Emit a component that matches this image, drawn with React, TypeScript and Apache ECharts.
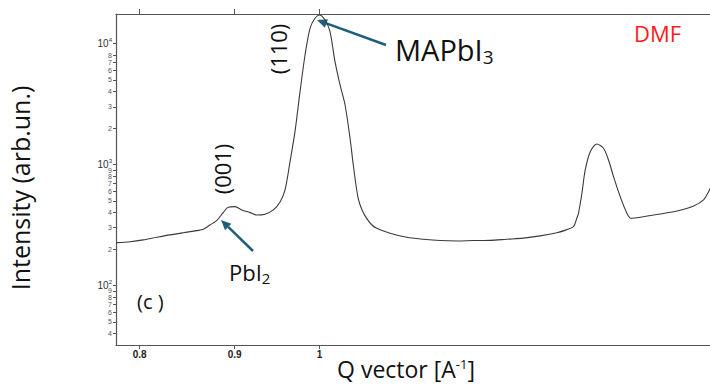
import React, { useEffect, useRef } from "react";
import * as echarts from "echarts";

// Q vector [A^-1]
const qValues = [
  0.7774, 0.7904, 0.8035, 0.817, 0.8306, 0.8444, 0.8586, 0.8658, 0.8728, 0.8801,
  0.8873, 0.8929, 0.9004, 0.908, 0.9174, 0.925, 0.9346, 0.9443, 0.9522, 0.9581,
  0.964, 0.97, 0.9761, 0.9822, 0.9883, 0.9944, 0.9998, 1.0069, 1.0131, 1.0194,
  1.0258, 1.0322, 1.0386, 1.0428, 1.049, 1.0542, 1.0607, 1.0673, 1.0736, 1.0914,
  1.1143, 1.1375, 1.1614, 1.1857, 1.2104, 1.2358, 1.2617, 1.288, 1.315, 1.3426,
  1.3582, 1.3705, 1.3763, 1.379, 1.3849, 1.3906, 1.3993, 1.4109, 1.4225, 1.4314,
  1.4403, 1.4523, 1.4644, 1.4717, 1.4888, 1.5263, 1.5583, 1.5908, 1.6106, 1.6206,
  1.6277,
];
// Intensity (arb.un.)
const intensities = [
  226, 230, 238, 250, 262, 273, 284, 291, 316, 343,
  400, 443, 448, 421, 400, 382, 388, 421, 490, 616,
  1049, 1867, 3996, 8035, 13355, 16155, 17200, 15638, 12518, 7072,
  4539, 3102, 1646, 991, 529, 421, 355, 316, 297, 270,
  250, 241, 235, 233, 235, 236, 241, 246, 257, 273,
  288, 306, 361, 395, 578, 901, 1276, 1477, 1361, 1089,
  793, 542, 395, 359, 366, 390, 413, 454, 509, 596,
  677,
];
const xTickValues = [0.8, 0.9, 1];
const yTickValues = [
  40, 50, 60, 70, 80, 90,
  100, 200, 300, 400, 500, 600, 700, 800, 900,
  1000, 2000, 3000, 4000, 5000, 6000, 7000, 8000, 9000,
  10000,
];
const xRange = [0.7768, 1.6235];
const yRange = [32.2, 17530];

const FONT = "'Open Sans', 'Noto Sans', sans-serif";
const SMALL = "'Liberation Sans', Arial, sans-serif";
const ARROW = "#1f5f7c";

function arrowHead(tip: number[], from: number[], len: number, half: number) {
  const dx = tip[0] - from[0];
  const dy = tip[1] - from[1];
  const l = Math.hypot(dx, dy);
  const ux = dx / l;
  const uy = dy / l;
  const bx = tip[0] - ux * len;
  const by = tip[1] - uy * len;
  const nx = -uy;
  const ny = ux;
  return {
    base: [bx, by],
    pts: [tip, [bx + nx * half, by + ny * half], [bx - nx * half, by - ny * half]],
  };
}

export default function App() {
  const ref = useRef<HTMLDivElement>(null);
  useEffect(() => {
    const chart = echarts.init(ref.current!, null, { renderer: "svg" });
    const a1 = arrowHead([317, 20], [386, 45], 10, 4.5);
    const a2 = arrowHead([221, 220], [253, 251], 10, 4.5);
    chart.setOption({
      animation: false,
      backgroundColor: "#ffffff",
      grid: {
        left: 116,
        right: 0,
        top: 14,
        bottom: 40,
        containLabel: false,
        outerBoundsMode: "none",
      },
      xAxis: [
        {
          type: "log",
          logBase: 10,
          min: xRange[0],
          max: xRange[1],
          position: "bottom",
          axisLine: { show: true, lineStyle: { color: "#555", width: 1.2 } },
          axisTick: {
            show: true,
            customValues: xTickValues,
            length: 4,
            lineStyle: { color: "#555" },
          },
          minorTick: { show: false },
          splitLine: { show: false },
          axisLabel: {
            show: true,
            customValues: xTickValues,
            hideOverlap: false,
            margin: 4,
            fontSize: 10,
            fontWeight: "bold",
            color: "#222",
            fontFamily: SMALL,
            formatter: (v: number) => String(Math.round(v * 10) / 10),
          },
          name: "{q|Q vector [A}{sup|-1}{q|]}",
          nameLocation: "middle",
          nameGap: 12,
          nameMoveOverlap: false,
          nameTextStyle: {
            fontSize: 23,
            color: "#111",
            fontFamily: FONT,
            lineHeight: 24,
            padding: [0, 14, 0, 0],
            rich: {
              q: { fontSize: 23, color: "#111", fontFamily: FONT, lineHeight: 24 },
              sup: { fontSize: 13, verticalAlign: "top", color: "#111", fontFamily: FONT, lineHeight: 14 },
            },
          },
        },
        {
          type: "log",
          logBase: 10,
          min: xRange[0],
          max: xRange[1],
          position: "top",
          axisLine: { show: true, lineStyle: { color: "#555", width: 1.2 } },
          axisTick: {
            show: true,
            customValues: xTickValues,
            length: 5,
            lineStyle: { color: "#555" },
          },
          splitLine: { show: false },
          axisLabel: { show: false },
        },
      ],
      yAxis: {
        type: "log",
        logBase: 10,
        min: yRange[0],
        max: yRange[1],
        axisLine: { show: true, lineStyle: { color: "#555", width: 1.2 } },
        axisTick: {
          show: true,
          customValues: yTickValues,
          length: 3,
          lineStyle: { color: "#555" },
        },
        splitLine: { show: false },
        axisLabel: {
          show: true,
          customValues: yTickValues,
          hideOverlap: false,
          showMinLabel: true,
          showMaxLabel: true,
          margin: 4,
          formatter: (v: number) => {
            const e = Math.round(Math.log10(v));
            if (Math.abs(v - Math.pow(10, e)) < 1e-6 * v) return `{b|10}{s|${e}}`;
            const d = Math.round(v / Math.pow(10, Math.floor(Math.log10(v) + 1e-9)));
            return `{m|${d}}`;
          },
          rich: {
            b: { fontSize: 10, color: "#333", fontFamily: SMALL, lineHeight: 12 },
            s: { fontSize: 6, color: "#333", verticalAlign: "top", fontFamily: SMALL },
            m: { fontSize: 7, color: "#555", fontFamily: SMALL },
          },
        },
        name: "Intensity (arb.un.)",
        nameLocation: "middle",
        nameGap: 84,
        nameMoveOverlap: false,
        nameRotate: 90,
        nameTextStyle: {
          fontSize: 25,
          color: "#111",
          fontFamily: FONT,
          padding: [0, 17, 0, 0],
        },
      },
      series: [
        {
          type: "line",
          xAxisIndex: 0,
          data: qValues.map((q, i) => [q, intensities[i]]),
          showSymbol: false,
          smooth: 0.3,
          lineStyle: { color: "#3a3a3a", width: 1.1 },
          silent: true,
        },
      ],
      graphic: [
        {
          type: "text",
          x: 278,
          y: 49,
          rotation: Math.PI / 2,
          style: {
            text: "(110)",
            fontSize: 22,
            fontFamily: FONT,
            fill: "#111",
            align: "center",
            verticalAlign: "middle",
          },
        },
        {
          type: "text",
          x: 222,
          y: 169,
          rotation: Math.PI / 2,
          style: {
            text: "(001)",
            fontSize: 22,
            fontFamily: FONT,
            fill: "#111",
            align: "center",
            verticalAlign: "middle",
          },
        },
        {
          type: "text",
          x: 395,
          y: 49,
          style: {
            text: "{a|MAPbI}{s|3}",
            fill: "#111",
            verticalAlign: "middle",
            rich: {
              a: { fontSize: 29, fontFamily: FONT, fill: "#111", lineHeight: 34 },
              s: { fontSize: 19, fontFamily: FONT, fill: "#111", verticalAlign: "bottom", lineHeight: 22 },
            },
          },
        },
        {
          type: "text",
          x: 229,
          y: 272,
          style: {
            text: "{a|PbI}{s|2}",
            fill: "#111",
            verticalAlign: "middle",
            rich: {
              a: { fontSize: 22, fontFamily: FONT, fill: "#111", lineHeight: 26 },
              s: { fontSize: 15, fontFamily: FONT, fill: "#111", verticalAlign: "bottom", lineHeight: 16 },
            },
          },
        },
        {
          type: "text",
          x: 137,
          y: 301,
          style: {
            text: "(c )",
            fontSize: 20,
            fontFamily: FONT,
            fill: "#111",
            verticalAlign: "middle",
          },
        },
        {
          type: "text",
          x: 634,
          y: 33,
          style: {
            text: "DMF",
            fontSize: 22,
            fontFamily: FONT,
            fill: "#ff1a1a",
            verticalAlign: "middle",
          },
        },
        {
          type: "line",
          shape: { x1: 386, y1: 45, x2: a1.base[0], y2: a1.base[1] },
          style: { stroke: ARROW, lineWidth: 2.5 },
        },
        {
          type: "polygon",
          shape: { points: a1.pts },
          style: { fill: ARROW },
        },
        {
          type: "line",
          shape: { x1: 253, y1: 251, x2: a2.base[0], y2: a2.base[1] },
          style: { stroke: ARROW, lineWidth: 2.5 },
        },
        {
          type: "polygon",
          shape: { points: a2.pts },
          style: { fill: ARROW },
        },
      ],
    });
    return () => chart.dispose();
  }, []);
  return (
    <div
      ref={ref}
      style={{ position: "fixed", left: 0, top: 0, width: 710, height: 385, background: "#fff" }}
    />
  );
}
